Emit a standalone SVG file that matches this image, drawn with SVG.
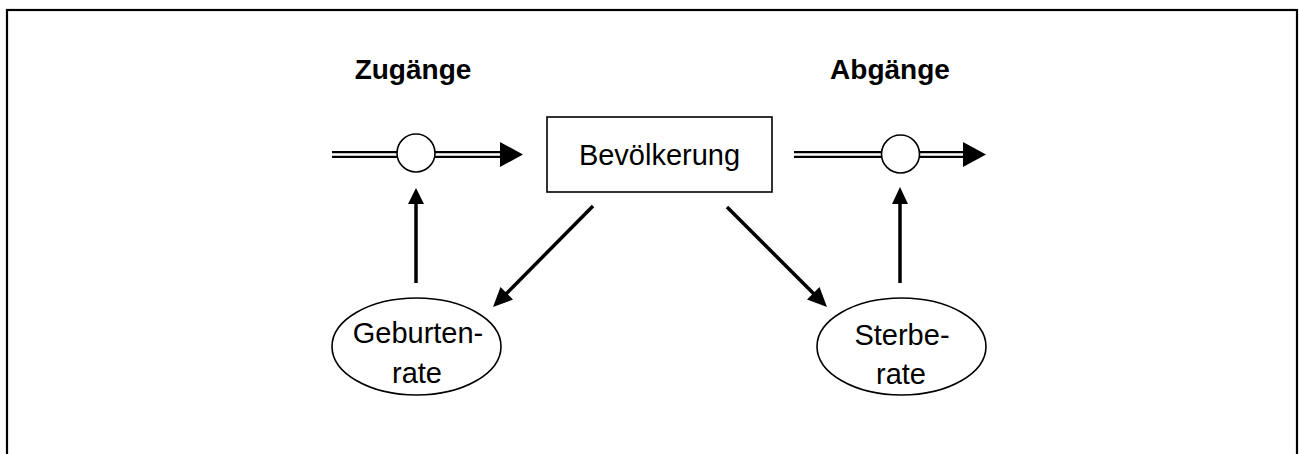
<svg xmlns="http://www.w3.org/2000/svg" width="1299" height="454" viewBox="0 0 1299 454">
<style>
  .frame { fill: none; stroke: #000; stroke-width: 2.2; }
  .node { fill: #fff; stroke: #000; stroke-width: 1.6; }
  .lbl { font-family: "Liberation Sans", Arial, sans-serif; font-size: 29px; fill: #000; text-anchor: middle; }
  .hdr { font-family: "Liberation Sans", Arial, sans-serif; font-size: 28px; font-weight: bold; fill: #000; text-anchor: middle; }
  .flowOuter { stroke: #000; stroke-width: 7; fill: none; }
  .flowInner { stroke: #fff; stroke-width: 2.6; fill: none; }
  .link { stroke: #000; stroke-width: 3.5; fill: none; }
  .head { fill: #000; stroke: none; }
</style>
<rect x="0" y="0" width="1299" height="454" fill="#fff"/>
<rect class="frame" x="7" y="10" width="1290" height="470"/>

<g id="connectors">
  <!-- left flow -->
  <line class="flowOuter" x1="332" y1="154.5" x2="502" y2="154.5"/>
  <line class="flowInner" x1="330" y1="154.5" x2="502" y2="154.5"/>
  <polygon class="head" points="500,142 523,154.5 500,167"/>
  <!-- right flow -->
  <line class="flowOuter" x1="794" y1="154.5" x2="965" y2="154.5"/>
  <line class="flowInner" x1="792" y1="154.5" x2="965" y2="154.5"/>
  <polygon class="head" points="963,142 986,154.5 963,167"/>
  <!-- vertical arrows -->
  <line class="link" x1="416" y1="283" x2="416" y2="202"/>
  <polygon class="head" points="408,204 416,188 424,204"/>
  <line class="link" x1="900" y1="283" x2="900" y2="202"/>
  <polygon class="head" points="892,204 900,187 908,204"/>
  <!-- diagonals -->
  <line class="link" x1="593" y1="206" x2="503" y2="297"/>
  <polygon class="head" points="493,307 500.5,287 513,299.5"/>
  <line class="link" x1="727" y1="207" x2="817" y2="297"/>
  <polygon class="head" points="827,307 807,299.5 819.5,287"/>
</g>

<g id="flow-left-valve"><circle class="node" cx="416" cy="153" r="19"/></g>
<g id="flow-right-valve"><circle class="node" cx="900.5" cy="154" r="19"/></g>

<g id="label-zugaenge"><text class="hdr" x="413" y="79">Zugänge</text></g>
<g id="label-abgaenge"><text class="hdr" x="890" y="79">Abgänge</text></g>

<g id="node-bevoelkerung">
  <rect class="node" x="547" y="117" width="225" height="75"/>
  <text class="lbl" x="659.5" y="165">Bevölkerung</text>
</g>

<g id="node-geburtenrate">
  <ellipse class="node" cx="416.5" cy="346.5" rx="84.5" ry="48.5"/>
  <text class="lbl" x="418" y="343">Geburten-</text>
  <text class="lbl" x="417" y="383">rate</text>
</g>

<g id="node-sterberate">
  <ellipse class="node" cx="901.5" cy="346.5" rx="84.5" ry="48.5"/>
  <text class="lbl" x="902" y="345">Sterbe-</text>
  <text class="lbl" x="901" y="384">rate</text>
</g>
</svg>
